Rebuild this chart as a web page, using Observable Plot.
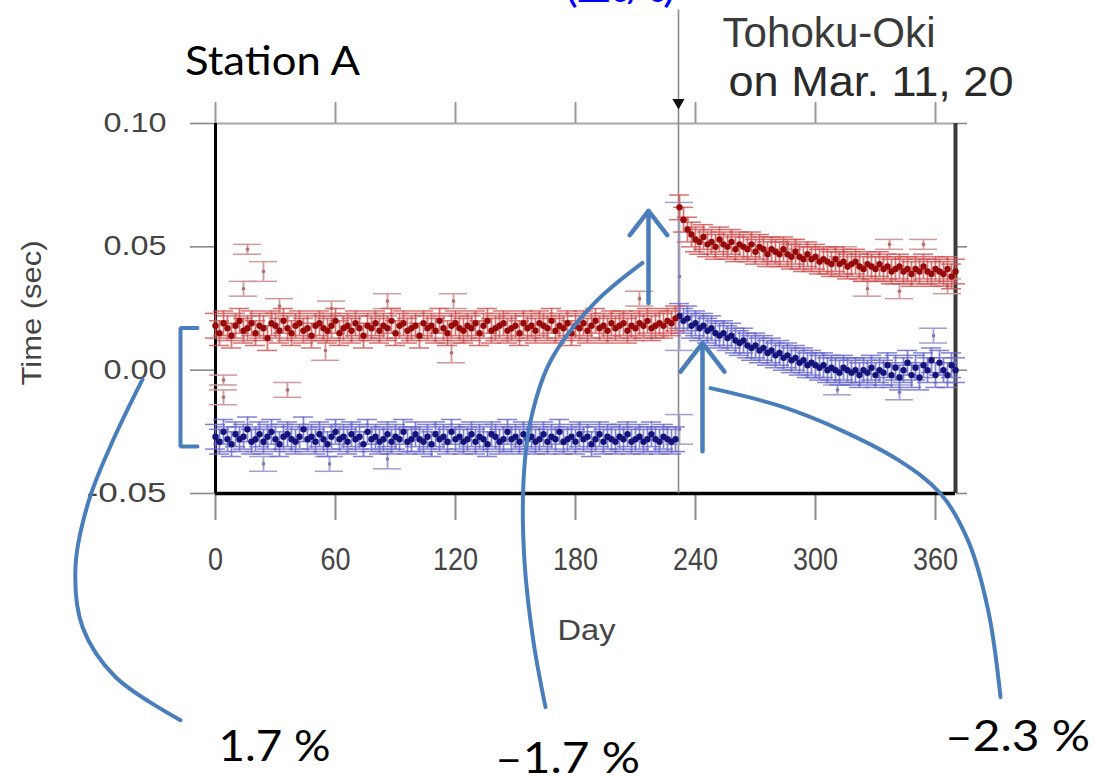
<!DOCTYPE html>
<html><head><meta charset="utf-8">
<script src="https://cdn.jsdelivr.net/npm/d3@7"></script>
<script src="https://cdn.jsdelivr.net/npm/@observablehq/plot@0.6"></script>
<style>
body{margin:0;background:#fff;}
#chart{width:1095px;height:778px;overflow:hidden;}
</style>
</head><body><div id="chart"></div>
<script>
// ---------- data ----------
const xTicks = [0, 60, 120, 180, 240, 300, 360];
const yTicks = [-0.05, 0, 0.05, 0.10];
const quakeDay = 231.5;

const preDays = [0,2,4,6,8,10,12,14,16,18,20,22,24,26,28,30,32,34,36,38,40,42,44,46,48,50,52,54,56,58,60,62,64,66,68,70,72,74,76,78,80,82,84,86,88,90,92,94,96,98,100,102,104,106,108,110,112,114,116,118,120,122,124,126,128,130,132,134,136,138,140,142,144,146,148,150,152,154,156,158,160,162,164,166,168,170,172,174,176,178,180,182,184,186,188,190,192,194,196,198,200,202,204,206,208,210,212,214,216,218,220,222,224,226,228,230];
const postDays = [232,234,236,238,240,242,244,246,248,250,252,254,256,258,260,262,264,266,268,270,272,274,276,278,280,282,284,286,288,290,292,294,296,298,300,302,304,306,308,310,312,314,316,318,320,322,324,326,328,330,332,334,336,338,340,342,344,346,348,350,352,354,356,358,360,362,364,366,368,370];

const redPre = [0.018,0.015,0.019,0.017,0.014,0.018,0.020,0.016,0.017,0.019,
0.015,0.018,0.017,0.013,0.019,0.018,0.016,0.020,0.017,0.015,
0.018,0.019,0.016,0.017,0.014,0.018,0.019,0.017,0.016,0.018,
0.020,0.015,0.017,0.018,0.016,0.019,0.017,0.014,0.018,0.017,
0.019,0.016,0.018,0.017,0.020,0.015,0.018,0.019,0.016,0.017,
0.018,0.014,0.019,0.017,0.018,0.016,0.020,0.017,0.015,0.018,
0.019,0.017,0.016,0.018,0.017,0.019,0.015,0.018,0.020,0.016,
0.017,0.018,0.019,0.016,0.017,0.018,0.015,0.019,0.017,0.018,
0.016,0.019,0.018,0.017,0.020,0.016,0.018,0.017,0.019,0.015,
0.018,0.017,0.019,0.016,0.018,0.020,0.017,0.018,0.016,0.019,
0.017,0.018,0.019,0.016,0.018,0.017,0.019,0.018,0.020,0.017,
0.018,0.019,0.018,0.020,0.019,0.021];

const bluePre = [-0.027,-0.029,-0.025,-0.028,-0.030,-0.026,-0.028,-0.027,-0.024,-0.029,
-0.028,-0.026,-0.029,-0.027,-0.025,-0.028,-0.030,-0.027,-0.026,-0.028,
-0.029,-0.027,-0.024,-0.028,-0.027,-0.029,-0.026,-0.028,-0.030,-0.027,
-0.025,-0.028,-0.027,-0.029,-0.026,-0.028,-0.027,-0.030,-0.025,-0.028,
-0.027,-0.029,-0.028,-0.026,-0.029,-0.027,-0.028,-0.025,-0.029,-0.028,
-0.026,-0.028,-0.029,-0.027,-0.030,-0.026,-0.028,-0.027,-0.029,-0.025,
-0.028,-0.027,-0.029,-0.028,-0.026,-0.029,-0.027,-0.028,-0.030,-0.026,
-0.027,-0.029,-0.028,-0.025,-0.028,-0.027,-0.029,-0.026,-0.028,-0.027,
-0.029,-0.028,-0.026,-0.029,-0.027,-0.028,-0.025,-0.029,-0.028,-0.027,
-0.029,-0.026,-0.028,-0.027,-0.030,-0.028,-0.026,-0.029,-0.027,-0.028,
-0.029,-0.027,-0.028,-0.026,-0.029,-0.028,-0.027,-0.029,-0.028,-0.026,
-0.028,-0.029,-0.027,-0.028,-0.029,-0.028];

const redPost = [0.066,0.061,0.057,0.055,0.053,0.052,0.054,0.051,0.052,0.050,
0.053,0.051,0.050,0.052,0.049,0.051,0.050,0.049,0.051,0.048,
0.050,0.049,0.047,0.049,0.048,0.047,0.049,0.047,0.046,0.048,
0.046,0.045,0.047,0.045,0.046,0.044,0.045,0.044,0.043,0.045,
0.043,0.044,0.042,0.043,0.044,0.042,0.041,0.043,0.042,0.041,
0.043,0.041,0.042,0.040,0.041,0.042,0.040,0.041,0.039,0.041,
0.040,0.042,0.040,0.039,0.041,0.040,0.039,0.041,0.038,0.040];

const bluePost = [0.022,0.020,0.021,0.018,0.019,0.017,0.018,0.016,0.017,0.015,
0.014,0.015,0.013,0.014,0.012,0.011,0.012,0.010,0.009,0.010,
0.008,0.009,0.007,0.008,0.006,0.007,0.005,0.006,0.004,0.005,
0.003,0.004,0.002,0.003,0.002,0.001,0.002,0.000,0.001,0.000,
-0.001,0.001,0.000,-0.001,0.000,-0.002,0.000,-0.001,0.001,-0.002,
0.000,-0.001,0.002,-0.002,0.001,-0.003,0.000,0.003,-0.002,0.001,
-0.003,0.002,0.000,0.004,-0.002,0.003,0.000,-0.002,0.002,0.000];

const bandErr = 0.005;

const redOutDay = [16,24,14,32,58,86,119,55,118,36,4,4,212,286,314,337,354,326,342,366];
const redOutVal = [0.049,0.040,0.033,0.026,0.025,0.028,0.028,0.008,0.007,-0.008,-0.004,-0.011,0.029,0.051,0.048,0.051,0.051,0.033,0.032,0.034];
const redOutErr = [0.002,0.004,0.003,0.003,0.003,0.003,0.003,0.004,0.004,0.003,0.002,0.003,0.003,0.002,0.002,0.002,0.002,0.003,0.003,0.003];

const blueOutDay = [24,57,86,232,232,311,342,359];
const blueOutVal = [-0.038,-0.038,-0.036,0.038,-0.024,-0.008,-0.009,0.014];
const blueOutErr = [0.003,0.003,0.004,0.030,0.006,0.002,0.003,0.003];

// annotation geometry (in data units of the chart)
const bracketX = [-9, -17.5, -17.5, -9];
const bracketY = [0.0171, 0.0171, -0.0309, -0.0309];
const curve1X = [-36.5,-51.5,-63.5,-70,-66.5,-50,-17.5];
const curve1Y = [-0.0037,-0.0289,-0.0533,-0.0797,-0.1041,-0.1244,-0.1419];
const curve2X = [213.5,189,167.5,157.5,154,154.5,159,165];
const curve2Y = [0.0435,0.0268,0.0037,-0.0207,-0.0451,-0.0776,-0.1102,-0.1366];
const curve3X = [247.5,282.5,314,342.5,362.5,376.5,386.5,392.5];
const curve3Y = [-0.0073,-0.0146,-0.0248,-0.0370,-0.0500,-0.0695,-0.0980,-0.1325];
const arrowX = [216.5, 243.5];
const arrowFrom = [0.0272, -0.0329];
const arrowTo = [0.0646, 0.0110];

const pctLabels = ["1.7 %", "\u20131.7 %", "\u20132.3 %"];
const pctX = [29.5, 176, 401];
const pctY = [-0.1528, -0.1577, -0.1488];

// ---------- build rows ----------
const mk = (days, vals, errs, s) => days.map((d, i) => ({day: d, t: vals[i], err: Array.isArray(errs) ? errs[i] : errs, s}));
const redBand = mk(preDays, redPre, bandErr, "r").concat(mk(postDays, redPost, bandErr, "r"));
const blueBand = mk(preDays, bluePre, bandErr, "b").concat(mk(postDays, bluePost, bandErr, "b"));
const redOut = mk(redOutDay, redOutVal, redOutErr, "r");
const blueOut = mk(blueOutDay, blueOutVal, blueOutErr, "b");

function errMarks(rows, stroke, dotFill, capHalf, r, op) {
  return [
    Plot.ruleX(rows, {x: "day", y1: d => d.t - d.err, y2: d => d.t + d.err, stroke, strokeWidth: 1.8, strokeOpacity: op}),
    Plot.ruleY(rows, {y: d => d.t + d.err, x1: d => d.day - capHalf, x2: d => d.day + capHalf, stroke, strokeWidth: 1.5, strokeOpacity: op}),
    Plot.ruleY(rows, {y: d => d.t - d.err, x1: d => d.day - capHalf, x2: d => d.day + capHalf, stroke, strokeWidth: 1.5, strokeOpacity: op}),
    Plot.dot(rows, {x: "day", y: "t", r, fill: dotFill, stroke: "none"})
  ];
}

const sans = "'Liberation Sans', Arial, Helvetica, sans-serif";
const calibri = "Lato, 'Liberation Sans', sans-serif";
const annBlue = "#4a7ebb";

const pts = (xs, ys) => xs.map((x, i) => ({x, y: ys[i]}));

const chart = Plot.plot({
  width: 1095, height: 778,
  marginLeft: 215, marginRight: 140, marginTop: 123, marginBottom: 285,
  x: {domain: [0, 370]},
  y: {domain: [-0.05, 0.10]},
  style: {background: "white", fontFamily: sans, overflow: "hidden"},
  marks: [
    // axes (ticks + labels)
    Plot.axisY({ticks: yTicks, tickSize: 25, tickPadding: 24, tickFormat: d => d.toFixed(2), fontSize: 27, label: null, stroke: "#8a8a8a", strokeWidth: 1.6, fill: "#444"}),
    Plot.axisY({anchor: "right", ticks: yTicks, tickSize: 11, tickFormat: () => "", label: null, stroke: "#8a8a8a", strokeWidth: 1.6}),
    Plot.axisX({ticks: xTicks, tickSize: 27, tickPadding: 27, fontSize: 31, label: null, stroke: "#8a8a8a", strokeWidth: 2, fill: "#444"}),
    Plot.axisX({anchor: "top", ticks: xTicks, tickSize: 22, tickFormat: () => "", label: null, stroke: "#9a9a9a", strokeWidth: 2}),
    // frame
    Plot.ruleY([0.10], {stroke: "#a8a8a8", strokeWidth: 2}),
    Plot.ruleX([370], {stroke: "#3a3a3a", strokeWidth: 4}),
    Plot.ruleX([0], {stroke: "#000", strokeWidth: 3}),
    Plot.ruleY([-0.05], {stroke: "#000", strokeWidth: 3.5}),
    // earthquake marker
    Plot.ruleX([quakeDay], {y1: -0.05, y2: 0.146, stroke: "#8c8c8c", strokeWidth: 1.6}),
    Plot.dot([quakeDay], {x: d => d, y: () => 0.1085, symbol: "triangle", rotate: 180, r: 4.5, fill: "#111"}),
    // data
    ...errMarks(blueOut, "#a0a0cc", "#7b7bb8", 7, 1.8, 1),
    ...errMarks(redOut, "#cf9a9a", "#b76b6b", 7, 1.8, 1),
    ...errMarks(blueBand, "#6c6cd0", "#14147a", 5, 3.2, 0.85),
    ...errMarks(redBand, "#d45656", "#960a0a", 5, 3.2, 0.85),
    // axis titles and labels
    Plot.text(["Day"], {x: () => 185.5, y: () => -0.1053, text: d => d, fontSize: 30, fill: "#444"}),
    Plot.text(["Time (sec)"], {x: () => -91.5, y: () => 0.0232, text: d => d, fontSize: 28, rotate: -90, fill: "#444"}),
    Plot.text(["Station A"], {x: () => 28.5, y: () => 0.1248, text: d => d, fontSize: 40, fontFamily: calibri, fill: "#000"}),
    Plot.text(["Tohoku-Oki"], {x: () => 253.5, y: () => 0.1366, text: d => d, fontSize: 42, textAnchor: "start", fill: "#3a3a3a"}),
    Plot.text(["on Mar. 11, 20"], {x: () => 256.5, y: () => 0.1167, text: d => d, fontSize: 42, textAnchor: "start", fill: "#2a2a2a"}),
    Plot.text(["(\u0394t/t)"], {x: () => 202.5, y: () => 0.1545, text: d => d, fontSize: 40, fontFamily: calibri, fill: "#0000ff"}),
    // annotations
    Plot.line(pts(bracketX, bracketY), {x: "x", y: "y", stroke: annBlue, strokeWidth: 4, strokeLinejoin: "miter"}),
    Plot.line(pts(curve1X, curve1Y), {x: "x", y: "y", curve: "catmull-rom", stroke: annBlue, strokeWidth: 4}),
    Plot.line(pts(curve2X, curve2Y), {x: "x", y: "y", curve: "catmull-rom", stroke: annBlue, strokeWidth: 4}),
    Plot.line(pts(curve3X, curve3Y), {x: "x", y: "y", curve: "catmull-rom", stroke: annBlue, strokeWidth: 4}),
    Plot.arrow(arrowX.map((x, i) => ({x, y1: arrowFrom[i], y2: arrowTo[i]})), {x1: "x", x2: "x", y1: "y1", y2: "y2", stroke: annBlue, strokeWidth: 4.5, headLength: 22, headAngle: 75}),
    Plot.text(pctLabels.map((t, i) => ({t, x: pctX[i], y: pctY[i]})), {x: "x", y: "y", text: "t", fontSize: 42, fontFamily: calibri, fill: "#000"})
  ]
});
document.getElementById("chart").appendChild(chart);

// fit texts to the widths measured on the reference
const widths = {"Station A": 175, "Tohoku-Oki": 213, "on Mar. 11, 20": 285, "1.7 %": 112, "\u20131.7 %": 145, "\u20132.3 %": 145, "Time (sec)": 145, "Day": 58, "(\u0394t/t)": 110,
  "0.10": 63, "0.05": 63, "0.00": 63, "-0.05": 80, "0": 15, "60": 30, "120": 45, "180": 45, "240": 45, "300": 45, "360": 45};
chart.querySelectorAll("text").forEach(t => {
  const w = widths[t.textContent];
  if (w) { t.setAttribute("textLength", w); t.setAttribute("lengthAdjust", "spacingAndGlyphs"); }
});
</script>
</body></html>
